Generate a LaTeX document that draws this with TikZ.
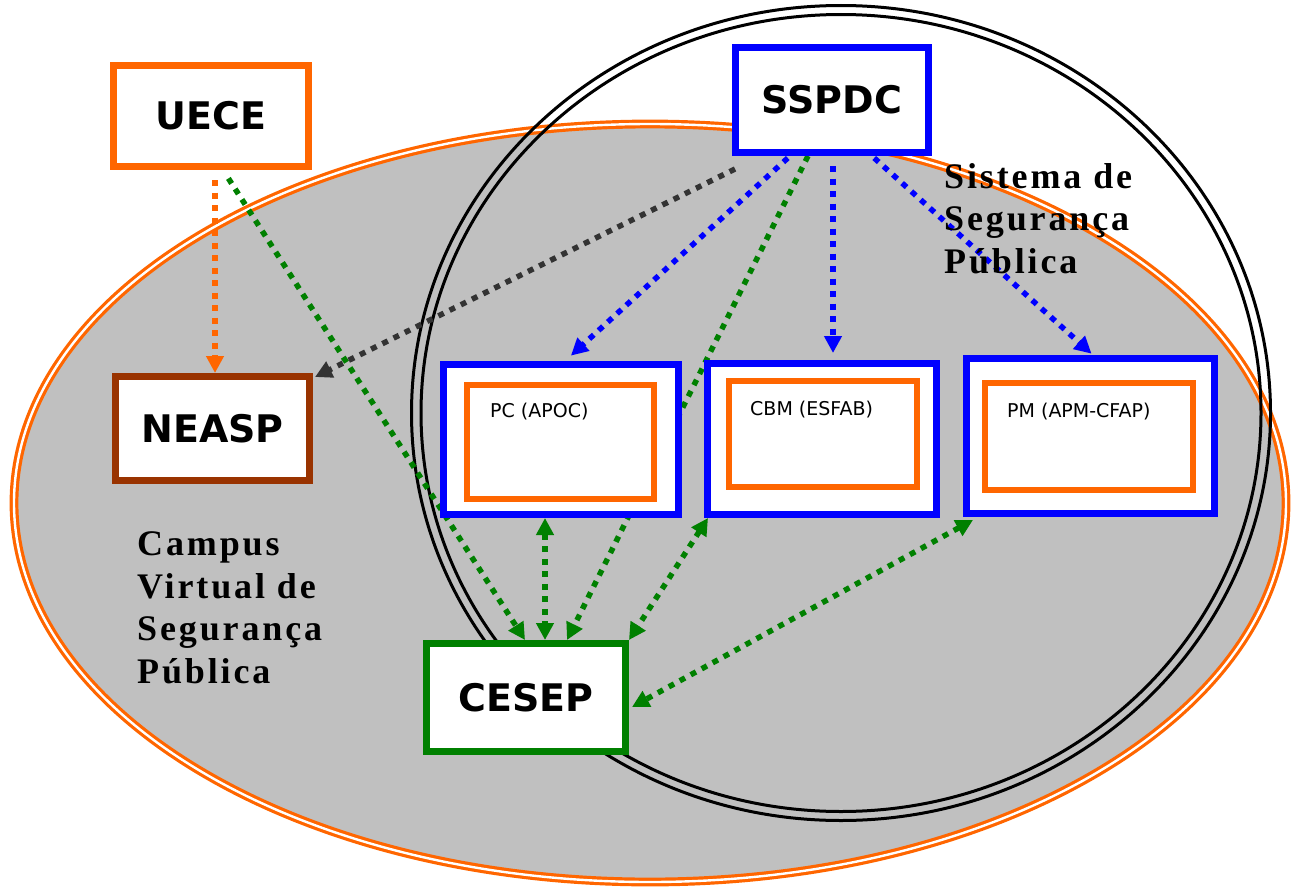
\documentclass[tikz,border=0pt]{standalone}
\usepackage{fontspec}
\usetikzlibrary{arrows.meta}

\newfontfamily\unitfont{DejaVu Sans}
\newfontfamily\areafont[LetterSpace=8]{Liberation Serif}

\definecolor{uececolor}{HTML}{FF6600}
\definecolor{ssp}{HTML}{0000FF}
\definecolor{cesep}{HTML}{008000}
\definecolor{neasp}{HTML}{993300}
\definecolor{campus}{HTML}{C0C0C0}
\definecolor{darklink}{HTML}{333333}

\pgfdeclarelayer{back}
\pgfdeclarelayer{links}
\pgfsetlayers{back,links,main}

\begin{document}
\begin{tikzpicture}[x=1pt, y=-1pt,
    unit/.style = {rectangle, draw, fill=white, line width=7pt, inner sep=0pt,
                   font=\unitfont\bfseries\fontsize{38}{40}\selectfont},
    school/.style = {rectangle, draw=uececolor, line width=6pt, inner sep=0pt},
    tag/.style = {anchor=west, inner sep=0pt, font=\unitfont\fontsize{19}{22}\selectfont},
    area/.style = {anchor=base west, align=left, inner sep=0pt,
                   font=\areafont\bfseries\fontsize{36}{42.5}\selectfont},
    link/.style = {line width=5.5pt, dash pattern=on 6pt off 6.5pt,
                   -{Triangle[length=17pt, width=17pt]}},
    both/.style = {link, {Triangle[length=17pt, width=17pt]}-{Triangle[length=17pt, width=17pt]}}]
  \useasboundingbox (0, 0) rectangle (1303, 891);

  % Units.
  \node at (211, 116) [unit, draw=uececolor, minimum width=195pt, minimum height=101pt, name=UECE] {UECE};
  \node at (212.5, 428.5) [unit, draw=neasp, minimum width=194pt, minimum height=104pt, name=NEASP] {NEASP};
  \node at (832, 100) [unit, draw=ssp, minimum width=193pt, minimum height=105pt, name=SSPDC] {SSPDC};
  \node at (526, 697.5) [unit, draw=cesep, minimum width=199pt, minimum height=108pt, name=CESEP] {CESEP};

  % Academies inside the public security system.
  \node at (561, 439.5) [unit, draw=ssp, minimum width=235pt, minimum height=150pt, name=PC] {};
  \node at (560.5, 442) [school, minimum width=187pt, minimum height=114pt, name=PCschool] {};
  \node at (490, 412) [tag, name=PCtag] {PC (APOC)};

  \node at (822, 439) [unit, draw=ssp, minimum width=229pt, minimum height=151pt, name=CBM] {};
  \node at (823, 434) [school, minimum width=188pt, minimum height=106pt, name=CBMschool] {};
  \node at (750, 410) [tag, name=CBMtag] {CBM (ESFAB)};

  \node at (1090.5, 436) [unit, draw=ssp, minimum width=248pt, minimum height=155pt, name=PM] {};
  \node at (1089, 436.5) [school, minimum width=208pt, minimum height=107pt, name=PMschool] {};
  \node at (1007, 412) [tag, name=PMtag] {PM (APM-CFAP)};

  % Areas (base is the last line).
  \node at (944, 273) [area, name=system] {Sistema de\\Segurança\\Pública};
  \node at (137, 683) [area, name=campusname] {Campus\\Virtual de\\Segurança\\Pública};

  \begin{pgfonlayer}{back}
    \draw [uececolor, fill=campus, line width=3.2pt, double=white, double distance=2.4pt]
          (650, 503) ellipse [x radius=636pt, y radius=379pt];
    \draw [line width=3pt] (841, 413) ellipse [x radius=429.5pt, y radius=407.5pt];
    \draw [line width=3pt] (841, 413) ellipse [x radius=420pt, y radius=398.5pt];
  \end{pgfonlayer}

  \begin{pgfonlayer}{links}
    % From UECE.
    \draw [link, uececolor, shorten <=10pt] ([xshift=4pt]UECE.south)
               to ([xshift=2.5pt]NEASP.north);
    \draw [link, cesep, shorten <=10pt] ([xshift=12pt]UECE.south)
               to ([xshift=-1pt]CESEP.north);

    % From SSPDC.
    \draw [link, darklink] ([xshift=3pt, yshift=-13pt]SSPDC.south west)
               to ([xshift=2pt, yshift=-4pt]NEASP.north east);
    \draw [link, ssp, shorten <=3pt, shorten >=8pt] ([xshift=-42pt]SSPDC.south)
               to ([xshift=4pt]PC.north);
    \draw [link, ssp, shorten <=10pt, shorten >=7pt] ([xshift=1pt]SSPDC.south)
               to ([xshift=11pt]CBM.north);
    \draw [link, ssp, shorten <=3pt, shorten >=2pt] ([xshift=40pt]SSPDC.south)
               to ([xshift=2.5pt]PM.north);
    \draw [link, cesep] ([xshift=-24pt]SSPDC.south)
               to ([xshift=41pt]CESEP.north);

    % To CESEP.
    \draw [both, cesep] ([xshift=-16pt]PC.south)
               to ([xshift=19pt]CESEP.north);
    \draw [both, cesep] ([xshift=4pt]CBM.south west)
               to (CESEP.north east);
    \draw [both, cesep] ([xshift=10pt, yshift=-3pt]PM.south west)
               to ([xshift=3pt, yshift=-9.5pt]CESEP.east);
  \end{pgfonlayer}
\end{tikzpicture}
\end{document}
